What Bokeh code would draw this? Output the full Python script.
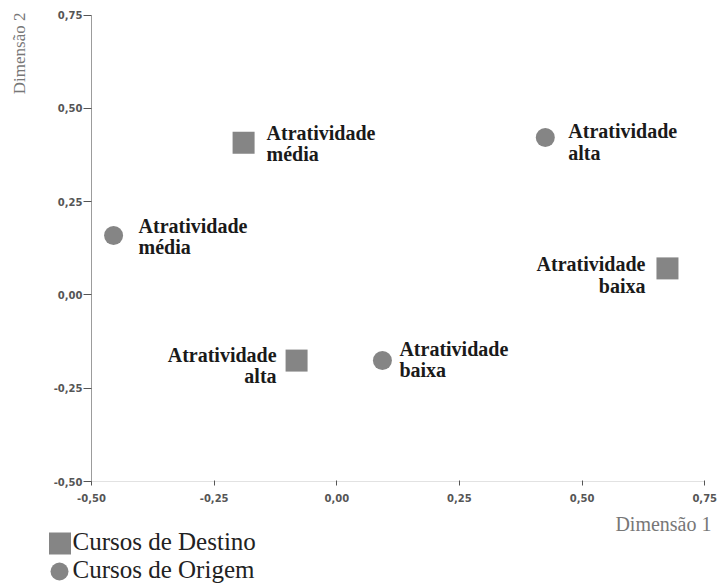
import math

from bokeh.core.properties import value
from bokeh.embed import file_html
from bokeh.models import ColumnDataSource, FixedTicker, Label, LinearAxis, Range1d
from bokeh.plotting import figure
from bokeh.resources import INLINE

# Category quantifications on the two dimensions
destino_labels = ["Atratividade\nmédia", "Atratividade\nbaixa", "Atratividade\nalta"]
destino_dim1 = [-0.190, 0.674, -0.082]
destino_dim2 = [0.408, 0.071, -0.176]

origem_labels = ["Atratividade\nalta", "Atratividade\nmédia", "Atratividade\nbaixa"]
origem_dim1 = [0.425, -0.455, 0.093]
origem_dim2 = [0.422, 0.159, -0.176]

tick_values = [-0.5, -0.25, 0.0, 0.25, 0.5, 0.75]
tick_labels = ["-0,50", "-0,25", "0,00", "0,25", "0,50", "0,75"]

legend_names = ["Cursos de Destino", "Cursos de Origem"]

# Label placement next to each point (screen pixels, y down)
destino_dx = [23, -22, -20]
destino_dy = [-21, -15, -17]
destino_align = ["left", "right", "right"]
origem_dx = [23, 25, 17]
origem_dy = [-17, -21, -23]
origem_align = ["left", "left", "left"]

W, H = 720, 583
# canvas geometry: where -0.5 (x) and 0.75 (y) fall, and pixels per unit
X0_PX, X_SCALE = 91.0, 490.6
Y0_PX, Y_SCALE = 14.5, 373.2

x_start = -0.5 - X0_PX / X_SCALE
y_end = 0.75 + Y0_PX / Y_SCALE


def px_x(px):
    return x_start + px / X_SCALE


def px_y(py):
    return y_end - py / Y_SCALE


SERIF = "Liberation Serif"
GREY = "#858585"

p = figure(
    width=W, height=H,
    x_range=Range1d(x_start, x_start + W / X_SCALE),
    y_range=Range1d(y_end - H / Y_SCALE, y_end),
    x_axis_location=None, y_axis_location=None,
    toolbar_location=None, output_backend="svg",
    min_border=0,
)
p.outline_line_color = None
p.grid.visible = False
p.background_fill_color = "white"
p.border_fill_color = "white"

overrides = dict(zip(tick_values, tick_labels))

xaxis = LinearAxis(
    fixed_location=-0.5, bounds=(-0.5, 0.75),
    ticker=FixedTicker(ticks=tick_values), major_label_overrides=overrides,
)
xaxis.axis_line_color = "#c4c4c4"
xaxis.axis_line_dash = "1 1"
xaxis.major_tick_line_color = "#555555"
xaxis.major_tick_in = 1
xaxis.major_tick_out = 4
xaxis.minor_tick_line_color = None
xaxis.major_label_standoff = 8
xaxis.major_label_text_font = "DejaVu Sans"
xaxis.major_label_text_font_style = "bold"
xaxis.major_label_text_font_size = "10px"
xaxis.major_label_text_color = "#555555"
p.add_layout(xaxis, "below")

yaxis = LinearAxis(
    fixed_location=-0.5, bounds=(-0.5, 0.75),
    ticker=FixedTicker(ticks=tick_values), major_label_overrides=overrides,
)
yaxis.axis_line_color = "#9c9c9c"
yaxis.major_tick_line_color = "#555555"
yaxis.major_tick_in = 0
yaxis.major_tick_out = 8
yaxis.minor_tick_line_color = None
yaxis.major_label_standoff = 1
yaxis.major_label_text_font = "DejaVu Sans"
yaxis.major_label_text_font_style = "bold"
yaxis.major_label_text_font_size = "10px"
yaxis.major_label_text_color = "#555555"
p.add_layout(yaxis, "left")

dest_src = ColumnDataSource(dict(
    x=destino_dim1, y=destino_dim2, text=destino_labels,
    dx=destino_dx, dy=destino_dy, align=destino_align,
))
orig_src = ColumnDataSource(dict(
    x=origem_dim1, y=origem_dim2, text=origem_labels,
    dx=origem_dx, dy=origem_dy, align=origem_align,
))

p.scatter("x", "y", source=dest_src, marker="square", size=22,
          fill_color=GREY, line_color=None)
p.scatter("x", "y", source=orig_src, marker="circle", size=19,
          fill_color=GREY, line_color=None)

for src in (dest_src, orig_src):
    p.text("x", "y", text="text", source=src, x_offset="dx", y_offset="dy",
           text_align="align", text_baseline="top",
           text_font=value(SERIF), text_font_style="bold",
           text_font_size="20px", text_line_height=0.98, text_color="#1a1a1a")

# axis titles
p.add_layout(Label(x=px_x(19), y=px_y(12), text="Dimensão 2", angle=math.pi / 2,
                   text_align="right", text_baseline="middle",
                   text_font=SERIF, text_font_size="17px", text_color="#777777"))
p.add_layout(Label(x=px_x(711), y=px_y(523), text="Dimensão 1",
                   text_align="right", text_baseline="middle",
                   text_font=SERIF, text_font_size="20px", text_color="#777777"))

# legend swatches and names
p.scatter([px_x(59.5)], [px_y(543)], marker="square", size=22,
          fill_color=GREY, line_color=None)
p.scatter([px_x(59)], [px_y(571)], marker="circle", size=18,
          fill_color=GREY, line_color=None)
for name, mid in zip(legend_names, (541, 569)):
    p.add_layout(Label(x=px_x(72), y=px_y(mid), text=name,
                       text_align="left", text_baseline="middle",
                       text_font=SERIF, text_font_size="25px", text_color="#222222"))

open("out.html", "w").write(file_html(p, INLINE))
